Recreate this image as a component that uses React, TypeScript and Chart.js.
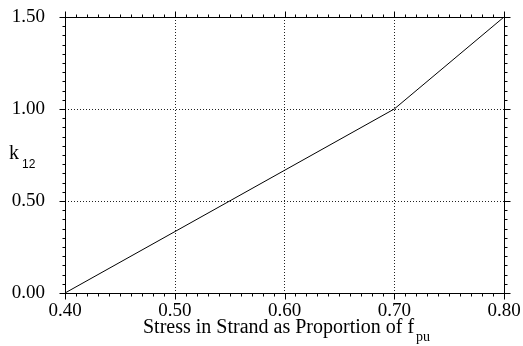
import React, { useEffect, useRef } from "react";
import { Chart, registerables } from "chart.js";

Chart.register(...registerables);

const xValues = [0.4, 0.7, 0.8];
const k12Values = [0.0, 1.0, 1.5];
const xTicks = [0.4, 0.5, 0.6, 0.7, 0.8];
const yTicks = [0.0, 0.5, 1.0, 1.5];
const xMinorStep = 0.01;
const yMinorStep = 0.05;
const xTitle = "Stress in Strand as Proportion of f";
const xTitleSub = "pu";
const yTitle = "k";
const yTitleSub = "12";

const FONT = "'Liberation Serif', 'Times New Roman', serif";
const SANS = "'Liberation Sans', Arial, sans-serif";

const zeroPad = (s: any) => {
  s.paddingTop = 0;
  s.paddingBottom = 0;
  s.paddingLeft = 0;
  s.paddingRight = 0;
};

const framePlugin = {
  id: "framePlugin",
  beforeDatasetsDraw(chart: any) {
    const { ctx, chartArea, scales } = chart;
    const { left, right, top, bottom } = chartArea;
    const xs = scales.x;
    const ys = scales.y;
    ctx.save();
    ctx.strokeStyle = "#222";
    ctx.lineWidth = 1;
    ctx.setLineDash([1, 2]);
    xTicks.forEach((v) => {
      const px = Math.round(xs.getPixelForValue(v)) + 0.5;
      if (px <= left + 1 || px >= right - 1) return;
      ctx.beginPath();
      ctx.moveTo(px, top);
      ctx.lineTo(px, bottom);
      ctx.stroke();
    });
    yTicks.forEach((v) => {
      const py = Math.round(ys.getPixelForValue(v)) + 0.5;
      if (py <= top + 1 || py >= bottom - 1) return;
      ctx.beginPath();
      ctx.moveTo(left, py);
      ctx.lineTo(right, py);
      ctx.stroke();
    });
    ctx.restore();
  },
  afterDatasetsDraw(chart: any) {
    const { ctx, chartArea, scales } = chart;
    const xs = scales.x;
    const ys = scales.y;
    const L = Math.round(chartArea.left) + 0.5;
    const R = Math.round(chartArea.right) + 0.5;
    const T = Math.round(chartArea.top) + 0.5;
    const B = Math.round(chartArea.bottom) + 0.5;
    ctx.save();
    ctx.strokeStyle = "#000";
    ctx.lineWidth = 1;
    ctx.setLineDash([]);
    ctx.strokeRect(L, T, R - L, B - T);
    const major = 6;
    const minor = 3;
    ctx.beginPath();
    const xmin = xs.min, xmax = xs.max;
    const nx = Math.round((xmax - xmin) / xMinorStep);
    for (let i = 0; i <= nx; i++) {
      const v = xmin + i * xMinorStep;
      const px = Math.round(xs.getPixelForValue(v)) + 0.5;
      const len = i % 10 === 0 ? major : minor;
      ctx.moveTo(px, B);
      ctx.lineTo(px, B + len);
      ctx.moveTo(px, T);
      ctx.lineTo(px, T - len);
    }
    const ymin = ys.min, ymax = ys.max;
    const ny = Math.round((ymax - ymin) / yMinorStep);
    for (let i = 0; i <= ny; i++) {
      const v = ymin + i * yMinorStep;
      const py = Math.round(ys.getPixelForValue(v)) + 0.5;
      const len = i % 10 === 0 ? major : minor;
      ctx.moveTo(L, py);
      ctx.lineTo(L - len, py);
      ctx.moveTo(R, py);
      ctx.lineTo(R + len, py);
    }
    ctx.stroke();

    // titles
    ctx.fillStyle = "#000";
    ctx.textBaseline = "alphabetic";
    ctx.textAlign = "left";
    ctx.font = `20px ${FONT}`;
    ctx.fillText(xTitle, 143, 333);
    const tw = ctx.measureText(xTitle).width;
    ctx.font = `14px ${FONT}`;
    ctx.fillText(xTitleSub, 143 + tw + 2, 341);

    ctx.font = `20px ${FONT}`;
    ctx.fillText(yTitle, 9, 159);
    ctx.font = `12px ${SANS}`;
    ctx.fillText(yTitleSub, 22, 168);
    ctx.restore();
  },
};

export default function App() {
  const ref = useRef<HTMLCanvasElement | null>(null);
  useEffect(() => {
    if (!ref.current) return;
    const chart = new Chart(ref.current, {
      type: "line",
      data: {
        datasets: [
          {
            data: xValues.map((x, i) => ({ x, y: k12Values[i] })),
            borderColor: "#000",
            borderWidth: 1,
            pointRadius: 0,
            fill: false,
            tension: 0,
          },
        ],
      },
      options: {
        responsive: false,
        animation: false,
        devicePixelRatio: 1,
        layout: { padding: { top: 17, right: 19, left: 0, bottom: 0 } },
        plugins: { legend: { display: false }, tooltip: { enabled: false } },
        scales: {
          x: {
            type: "linear",
            min: 0.4,
            max: 0.8,
            afterFit: (s: any) => {
              s.height = 53;
              zeroPad(s);
            },
            afterBuildTicks: (s: any) => {
              s.ticks = xTicks.map((v) => ({ value: v }));
            },
            grid: { display: false, drawTicks: false },
            border: { display: false },
            ticks: {
              padding: 7,
              color: "#000",
              maxRotation: 0,
              autoSkip: false,
              font: { family: FONT, size: 19 },
              callback: (v: any) => Number(v).toFixed(2),
            },
          },
          y: {
            type: "linear",
            min: 0,
            max: 1.5,
            afterFit: (s: any) => {
              s.width = 65;
              zeroPad(s);
            },
            afterBuildTicks: (s: any) => {
              s.ticks = yTicks.map((v) => ({ value: v }));
            },
            grid: { display: false, drawTicks: false },
            border: { display: false },
            ticks: {
              padding: 20,
              color: "#000",
              autoSkip: false,
              font: { family: FONT, size: 19 },
              callback: (v: any) => Number(v).toFixed(2),
            },
          },
        },
      },
      plugins: [framePlugin],
    });
    return () => chart.destroy();
  }, []);
  return (
    <div style={{ position: "absolute", left: 0, top: 0, width: 523, height: 346 }}>
      <canvas ref={ref} width={523} height={346} style={{ display: "block" }} />
    </div>
  );
}
